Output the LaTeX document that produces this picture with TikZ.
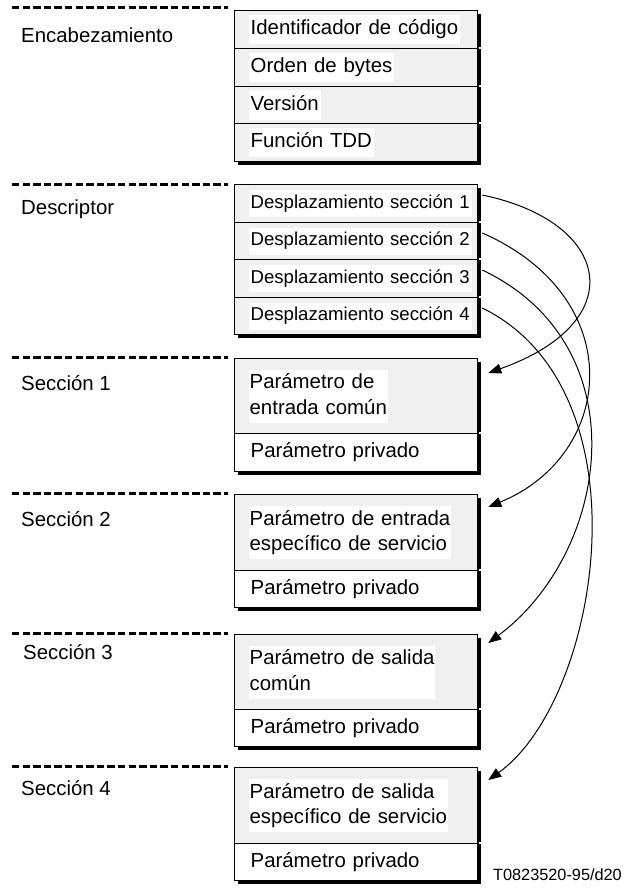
\documentclass[tikz,border=0pt]{standalone}
\usepackage{fontspec}
\setmainfont{Liberation Sans}
\usetikzlibrary{arrows.meta}
\definecolor{cellgray}{RGB}{240,240,240}
\newcommand{\mainsz}{\fontsize{20.4}{25.5}\selectfont}
\newcommand{\descsz}{\fontsize{18.6}{23}\selectfont}
\newcommand{\hlt}[1]{{\setlength{\fboxsep}{2pt}\colorbox{white}{\strut #1}}}
\newcommand{\hltt}[2]{{\setlength{\fboxsep}{1pt}\colorbox{white}{\begin{tabular}{@{}l@{}}#1\\#2\end{tabular}}}}
\begin{document}
\begin{tikzpicture}[x=1pt,y=-1pt,
 cell/.style={draw, line width=1.3pt, fill=cellgray, anchor=north west, minimum width=243pt, text width=215pt, inner xsep=14pt, inner ysep=0pt, align=left, font=\mainsz},
 priv/.style={cell, fill=white},
 desc/.style={cell, font=\descsz},
 lbl/.style={anchor=west, inner sep=0pt, font=\mainsz},
 sepline/.style={line width=3pt, dash pattern=on 7.3pt off 3.3pt},
 shadowbox/.style={fill=black},
 tick/.style={white, line width=1.3pt},
 conn/.style={line width=1pt, -{Triangle[length=13pt,width=10pt]}}]
\useasboundingbox (0,0) rectangle (625,888);

% dashed separators
\draw[sepline] (12,8) -- (228,8);
\draw[sepline] (12,184) -- (228,184);
\draw[sepline] (12,357) -- (228,357);
\draw[sepline] (12,493) -- (228,493);
\draw[sepline] (12,633) -- (228,633);
\draw[sepline] (12,766) -- (228,766);

% labels
\node[lbl] (lenc) at (21,35) {Encabezamiento};
\node[lbl] (ldes) at (21,209) {Descriptor};
\node[lbl] (ls1) at (21,383) {Sección 1};
\node[lbl] (ls2) at (21,519) {Sección 2};
\node[lbl] (ls3) at (23,652) {Sección 3};
\node[lbl] (ls4) at (21,788) {Sección 4};

% shadows
\fill[shadowbox] (238,14) rectangle (481,165);
\fill[shadowbox] (238,188) rectangle (481,338);
\fill[shadowbox] (238,362) rectangle (481,475);
\fill[shadowbox] (238,498) rectangle (481,611);
\fill[shadowbox] (238,638) rectangle (481,750);
\fill[shadowbox] (238,771) rectangle (481,884);

% header
\node[cell, minimum height=38pt] (h1) at (234,10) {\hlt{Identificador de código}};
\node[cell, minimum height=38pt] (h2) at (234,48) {\hlt{Orden de bytes}};
\node[cell, minimum height=37pt] (h3) at (234,86) {\hlt{Versión}};
\node[cell, minimum height=38pt] (h4) at (234,123) {\hlt{Función TDD}};

% descriptor
\node[desc, minimum height=38pt] (d1) at (234,184) {\hlt{Desplazamiento sección 1}};
\node[desc, minimum height=37pt] (d2) at (234,222) {\hlt{Desplazamiento sección 2}};
\node[desc, minimum height=38pt] (d3) at (234,259) {\hlt{Desplazamiento sección 3}};
\node[desc, minimum height=37pt] (d4) at (234,297) {\hlt{Desplazamiento sección 4}};

% sections
\node[cell, minimum height=75pt] (s1a) at (234,358) {\hltt{Parámetro de}{entrada común}};
\node[priv, minimum height=38pt] (s1b) at (234,433) {\hlt{Parámetro privado}};
\node[cell, minimum height=76pt] (s2a) at (234,494) {\hltt{Parámetro de entrada}{específico de servicio}};
\node[priv, minimum height=37pt] (s2b) at (234,570) {\hlt{Parámetro privado}};
\node[cell, minimum height=75pt] (s3a) at (234,634) {\hltt{Parámetro de salida}{común}};
\node[priv, minimum height=37pt] (s3b) at (234,709) {\hlt{Parámetro privado}};
\node[cell, minimum height=76pt] (s4a) at (234,767) {\hltt{Parámetro de salida}{específico de servicio}};
\node[priv, minimum height=37pt] (s4b) at (234,843) {\hlt{Parámetro privado}};

% white ticks in shadows at separators
\foreach \yy in {48,86,123,222,259,297,433,570,709,843}
  \draw[tick] (478.5,\yy) -- (482,\yy);

% figure id
\node[anchor=east, inner sep=0pt, font=\fontsize{16.3}{19}\selectfont] (fid) at (622,875) {T0823520-95/d20};

% connectors
\coordinate (t1) at ([shift={(10pt,-15pt)}]s1a.north east);
\coordinate (t2) at ([shift={(10pt,-13pt)}]s2a.north east);
\coordinate (t3) at ([shift={(10pt,-9pt)}]s3a.north east);
\coordinate (t4) at ([shift={(10pt,-13pt)}]s4a.north east);
\draw[conn] ([shift={(4pt,-11pt)}]d1.north east) .. controls (612,222) and (632,322) .. (t1);
\draw[conn] ([shift={(4pt,-11pt)}]d2.north east) .. controls (630,298) and (615,455) .. (t2);
\draw[conn] ([shift={(4pt,-11pt)}]d3.north east) .. controls (640,345) and (611,551) .. (t3);
\draw[conn] ([shift={(4pt,-11pt)}]d4.north east) .. controls (651,391) and (600,700) .. (t4);
\end{tikzpicture}
\end{document}
